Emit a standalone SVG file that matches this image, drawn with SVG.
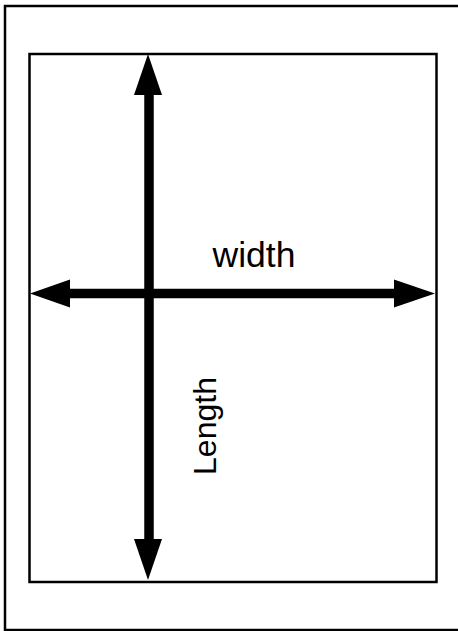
<svg xmlns="http://www.w3.org/2000/svg" width="458" height="631" viewBox="0 0 458 631">
  <style>
    .frame { fill: none; stroke: #000; stroke-width: 2.5; }
    .shaft { stroke: #000; stroke-width: 9.5; fill: none; }
    .head { fill: #000; }
    .lbl { font-family: "Liberation Sans", Arial, sans-serif; font-size: 32px; fill: #000; }
  </style>
  <rect id="page" class="frame" x="5" y="6" width="460" height="624"/>
  <rect id="sheet" class="frame" x="29.5" y="54" width="407" height="528"/>
  <g id="connectors">
    <line class="shaft" x1="149" y1="92" x2="149" y2="542"/>
    <polygon class="head" points="148,54 134,95 162,95"/>
    <polygon class="head" points="148,580 134,539 162,539"/>
    <line class="shaft" x1="68" y1="293.5" x2="396" y2="293.5"/>
    <polygon class="head" points="30,293.5 70,279.5 70,307.5"/>
    <polygon class="head" points="435,293.5 394,279.5 394,307.5"/>
  </g>
  <g id="width-label">
    <text class="lbl" x="254" y="267" text-anchor="middle" style="font-size:35.5px">width</text>
  </g>
  <g id="length-label">
    <text class="lbl" transform="translate(216,426) rotate(-90)" x="0" y="0" text-anchor="middle">Length</text>
  </g>
</svg>
